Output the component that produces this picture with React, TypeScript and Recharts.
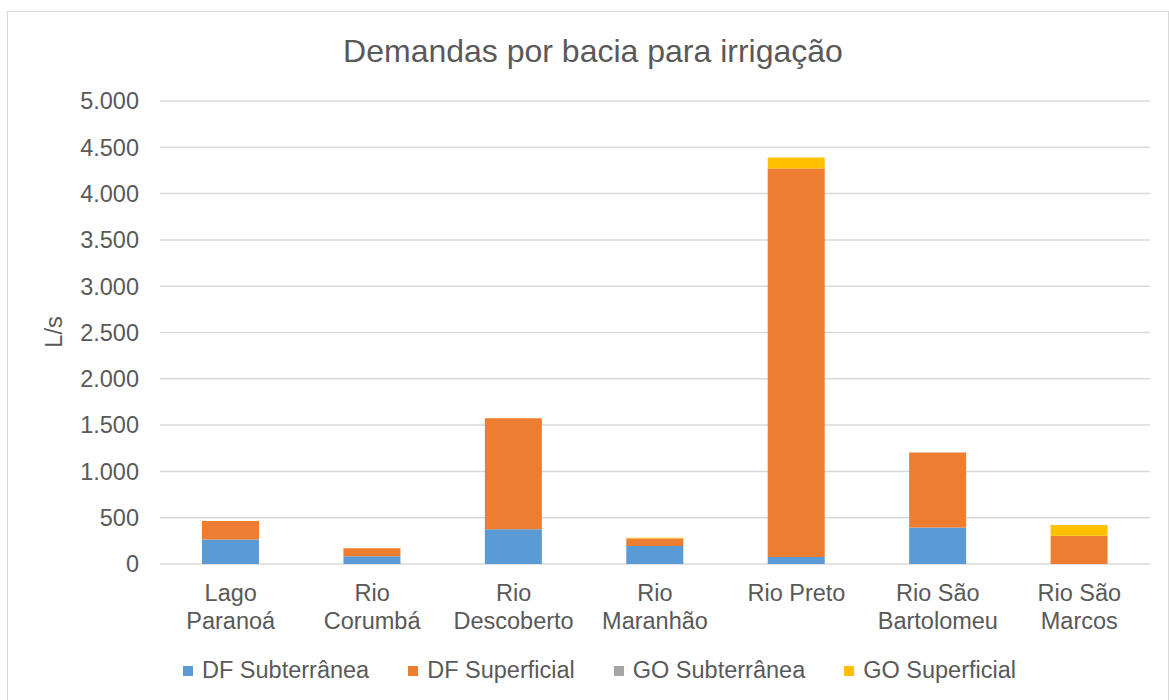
import { BarChart, Bar, XAxis, YAxis, CartesianGrid, Legend } from 'recharts';

const categories = [
  'Lago\nParanoá',
  'Rio\nCorumbá',
  'Rio\nDescoberto',
  'Rio\nMaranhão',
  'Rio Preto',
  'Rio São\nBartolomeu',
  'Rio São\nMarcos',
];
const dfSubterranea = [265, 85, 375, 195, 75, 395, 0];
const dfSuperficial = [200, 85, 1200, 80, 4195, 810, 305];
const goSubterranea = [0, 0, 0, 0, 0, 0, 0];
const goSuperficial = [0, 0, 0, 8, 120, 0, 115];
const yTicks = [0, 500, 1000, 1500, 2000, 2500, 3000, 3500, 4000, 4500, 5000];

const series = [
  { key: 'dfSub', name: 'DF Subterrânea', color: '#5B9BD5' },
  { key: 'dfSup', name: 'DF Superficial', color: '#ED7D31' },
  { key: 'goSub', name: 'GO Subterrânea', color: '#A5A5A5' },
  { key: 'goSup', name: 'GO Superficial', color: '#FFC000' },
];

const data = categories.map((name, i) => ({
  name,
  dfSub: dfSubterranea[i],
  dfSup: dfSuperficial[i],
  goSub: goSubterranea[i],
  goSup: goSuperficial[i],
}));

const FONT = '"Liberation Sans", Arial, sans-serif';
const TEXT = '#595959';

const fmt = (v: number) => v.toLocaleString('de-DE');

function CategoryTick({ x, y, payload }: any) {
  const lines = String(payload.value).split('\n');
  return (
    <text x={x} y={y} textAnchor="middle" fill={TEXT} fontSize={23.5} fontFamily={FONT}>
      {lines.map((l, i) => (
        <tspan key={i} x={x} y={y + 37 + i * 28}>
          {l}
        </tspan>
      ))}
    </text>
  );
}

function LegendContent() {
  return (
    <div style={{ display: 'flex', justifyContent: 'center', alignItems: 'center', fontFamily: FONT, fontSize: 23.5, color: TEXT }}>
      {series.map((s, i) => (
        <div key={s.key} style={{ display: 'flex', alignItems: 'center', marginLeft: i === 0 ? 0 : 39 }}>
          <span style={{ width: 10, height: 10, background: s.color, display: 'inline-block', marginRight: 9 }} />
          <span>{s.name}</span>
        </div>
      ))}
    </div>
  );
}

export default function App() {
  return (
    <div style={{ position: 'absolute', left: 0, top: 0, width: 1169, height: 700, overflow: 'hidden', background: '#fff' }}>
      <div style={{ position: 'absolute', left: 7, top: 11, width: 1160, height: 720, border: '1.5px solid #d9d9d9' }} />
      <div style={{ position: 'absolute', left: 0, top: 32, width: 1186, textAlign: 'center', fontFamily: FONT, fontSize: 32, lineHeight: '38px', color: TEXT }}>
        Demandas por bacia para irrigação
      </div>
      <div style={{ position: 'absolute', left: 0, top: 0 }}>
        <BarChart width={1169} height={700} data={data} margin={{ top: 101, right: 19, bottom: 66, left: 0 }} barSize={57}>
          <CartesianGrid vertical={false} stroke="#d9d9d9" strokeWidth={1.5} />
          <XAxis dataKey="name" axisLine={false} tickLine={false} tickSize={0} tickMargin={0} height={70} interval={0} tick={<CategoryTick />} />
          <YAxis
            width={160}
            domain={[0, 5000]}
            ticks={yTicks}
            tickFormatter={fmt}
            axisLine={false}
            tickLine={false}
            tickSize={0}
            tickMargin={21}
            tick={{ fill: TEXT, fontSize: 23.5, fontFamily: FONT }}
            label={{
              content: () => (
                <text x={54} y={332} transform="rotate(-90 54 332)" textAnchor="middle" dominantBaseline="central" fill={TEXT} fontSize={23.5} fontFamily={FONT}>
                  L/s
                </text>
              ),
            }}
          />
          <Legend verticalAlign="middle" align="center" wrapperStyle={{ top: 657, left: 0, width: 1199 }} content={() => <LegendContent />} />
          {series.map((s) => (
            <Bar key={s.key} dataKey={s.key} name={s.name} stackId="a" fill={s.color} isAnimationActive={false} />
          ))}
        </BarChart>
      </div>
    </div>
  );
}
